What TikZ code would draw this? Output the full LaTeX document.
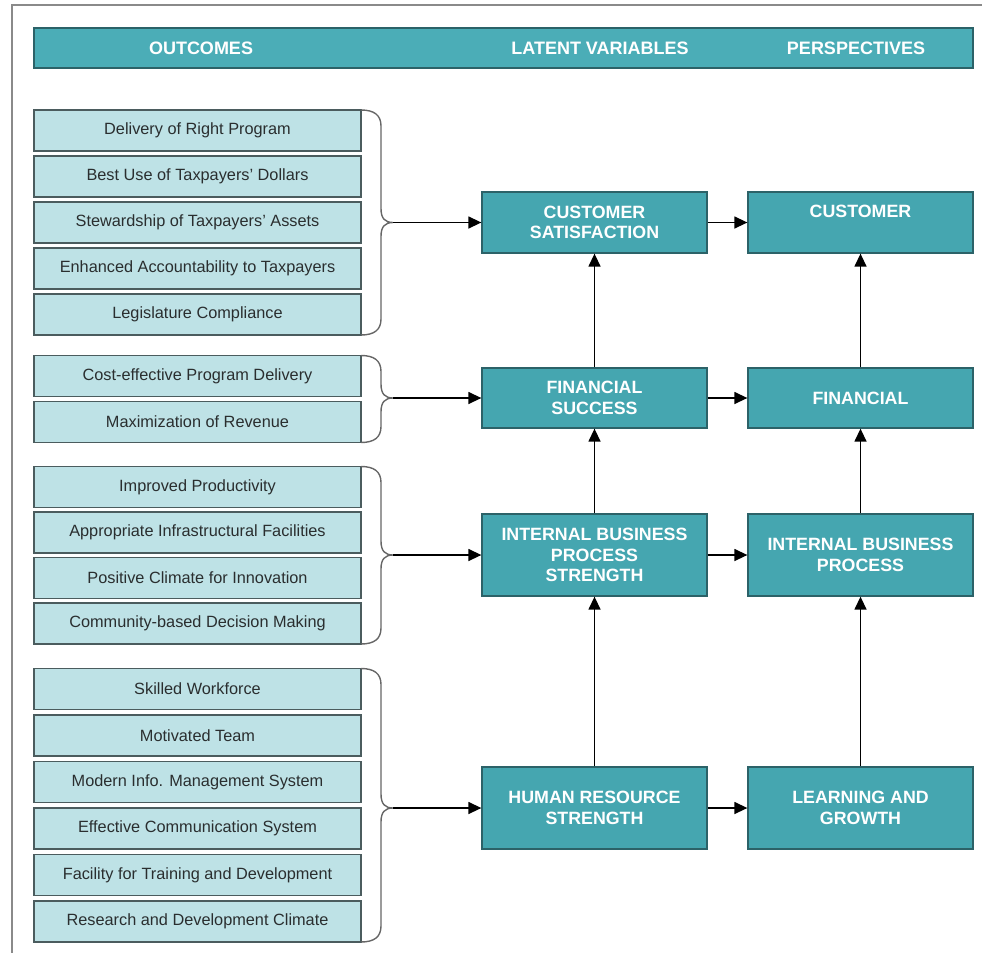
\documentclass[tikz,border=0pt]{standalone}
\usepackage{fontspec}
\setmainfont{Liberation Sans}
\usetikzlibrary{arrows.meta}
\definecolor{tealfill}{HTML}{45A6B0}
\definecolor{tealedge}{HTML}{2C6268}
\definecolor{headfill}{HTML}{4BADB7}
\definecolor{lightfill}{HTML}{BEE2E6}
\definecolor{lightedge}{HTML}{4B5C5E}
\definecolor{lighttext}{HTML}{2A2E2F}
\definecolor{framegray}{HTML}{8A8A8A}
\definecolor{bracegray}{HTML}{666666}
\newcommand\outbrace[3]{%
  \draw[brace] (361,#1) .. controls (374,#1) and (381,#1+5) .. (381,#1+16)
    -- (381,#2-14) .. controls (381,#2-4) and (385,#2) .. (393,#2)
    .. controls (385,#2) and (381,#2+4) .. (381,#2+14)
    -- (381,#3-16) .. controls (381,#3-5) and (374,#3) .. (361,#3);}
\tikzset{
  outbox/.style={draw=lightedge, line width=1.3pt, fill=lightfill,
    minimum width=327pt, minimum height=41pt, inner sep=0pt,
    text=lighttext, font=\fontsize{16.3}{19}\selectfont},
  latent/.style={draw=tealedge, line width=1.3pt, fill=tealfill,
    minimum width=225pt, inner sep=0pt, align=center, text=white,
    font=\fontsize{17.8}{20.5}\selectfont\bfseries},
  headtext/.style={text=white, font=\fontsize{18}{20}\selectfont\bfseries, inner sep=0pt},
  brace/.style={draw=bracegray, line width=1.4pt},
  arr/.style={draw=black, line width=1.4pt, -{Triangle[length=13pt,width=12pt]}}
}
\begin{document}
\begin{tikzpicture}[x=1pt,y=-1pt]
\useasboundingbox (0,0) rectangle (982,953);
% frame
\draw[framegray, line width=2pt] (982,5) -- (12,5) -- (12,953);
% header
\node[draw=tealedge, line width=1.3pt, fill=headfill, minimum width=939pt,
      minimum height=40pt, inner sep=0pt] (header) at (503.5,48) {};
\node[headtext] (h1) at (201,48) {OUTCOMES};
\node[headtext] (h2) at (600,48) {LATENT VARIABLES};
\node[headtext] (h3) at (856,48) {PERSPECTIVES};
% group 1
\node[outbox] (a1) at (197.5,130.5) {Delivery of Right Program};
\node[outbox] (a2) at (197.5,176.5) {Best Use of Taxpayers' Dollars};
\node[outbox] (a3) at (197.5,222.5) {Stewardship of Taxpayers' Assets};
\node[outbox] (a4) at (197.5,268.5) {Enhanced Accountability to Taxpayers};
\node[outbox] (a5) at (197.5,314.5) {Legislature Compliance};
% group 2
\node[outbox] (b1) at (197.5,376) {Cost-effective Program Delivery};
\node[outbox] (b2) at (197.5,422) {Maximization of Revenue};
% group 3
\node[outbox] (c1) at (197.5,487) {Improved Productivity};
\node[outbox] (c2) at (197.5,532.5) {Appropriate Infrastructural Facilities};
\node[outbox] (c3) at (197.5,578) {Positive Climate for Innovation};
\node[outbox] (c4) at (197.5,623.5) {Community-based Decision Making};
% group 4
\node[outbox] (d1) at (197.5,689) {Skilled Workforce};
\node[outbox] (d2) at (197.5,735.5) {Motivated Team};
\node[outbox] (d3) at (197.5,782) {Modern Info. Management System};
\node[outbox] (d4) at (197.5,828.5) {Effective Communication System};
\node[outbox] (d5) at (197.5,875) {Facility for Training and Development};
\node[outbox] (d6) at (197.5,921.5) {Research and Development Climate};
% braces
\outbrace{110}{222.5}{335}
\outbrace{355.5}{398}{442.5}
\outbrace{466.5}{555}{644}
\outbrace{668.5}{808}{942}
\coordinate (t1) at (393,222.5);
\coordinate (t2) at (393,398);
\coordinate (t3) at (393,555);
\coordinate (t4) at (393,808);
% latent variables
\node[latent, minimum height=61pt] (cs) at (594.5,222.5) {CUSTOMER\\SATISFACTION};
\node[latent, minimum height=60pt] (fs) at (594.5,398) {FINANCIAL\\SUCCESS};
\node[latent, minimum height=82pt] (ib) at (594.5,555) {INTERNAL BUSINESS\\PROCESS\\STRENGTH};
\node[latent, minimum height=82pt] (hr) at (594.5,808) {HUMAN RESOURCE\\STRENGTH};
% perspectives
\node[latent, minimum height=61pt, text depth=22pt] (pc) at (860.5,222.5) {CUSTOMER};
\node[latent, minimum height=60pt] (pf) at (860.5,398) {FINANCIAL};
\node[latent, minimum height=82pt] (pi) at (860.5,555) {INTERNAL BUSINESS\\PROCESS};
\node[latent, minimum height=82pt] (pl) at (860.5,808) {LEARNING AND\\GROWTH};
% arrows from braces
\draw[arr] (t1) -- (cs);
\draw[arr] (t2) -- (fs);
\draw[arr] (t3) -- (ib);
\draw[arr] (t4) -- (hr);
% horizontal arrows
\draw[arr] (cs) -- (pc);
\draw[arr] (fs) -- (pf);
\draw[arr] (ib) -- (pi);
\draw[arr] (hr) -- (pl);
% vertical arrows
\draw[arr] (fs) -- (cs);
\draw[arr] (ib) -- (fs);
\draw[arr] (hr) -- (ib);
\draw[arr] (pf) -- (pc);
\draw[arr] (pi) -- (pf);
\draw[arr] (pl) -- (pi);
\end{tikzpicture}
\end{document}
